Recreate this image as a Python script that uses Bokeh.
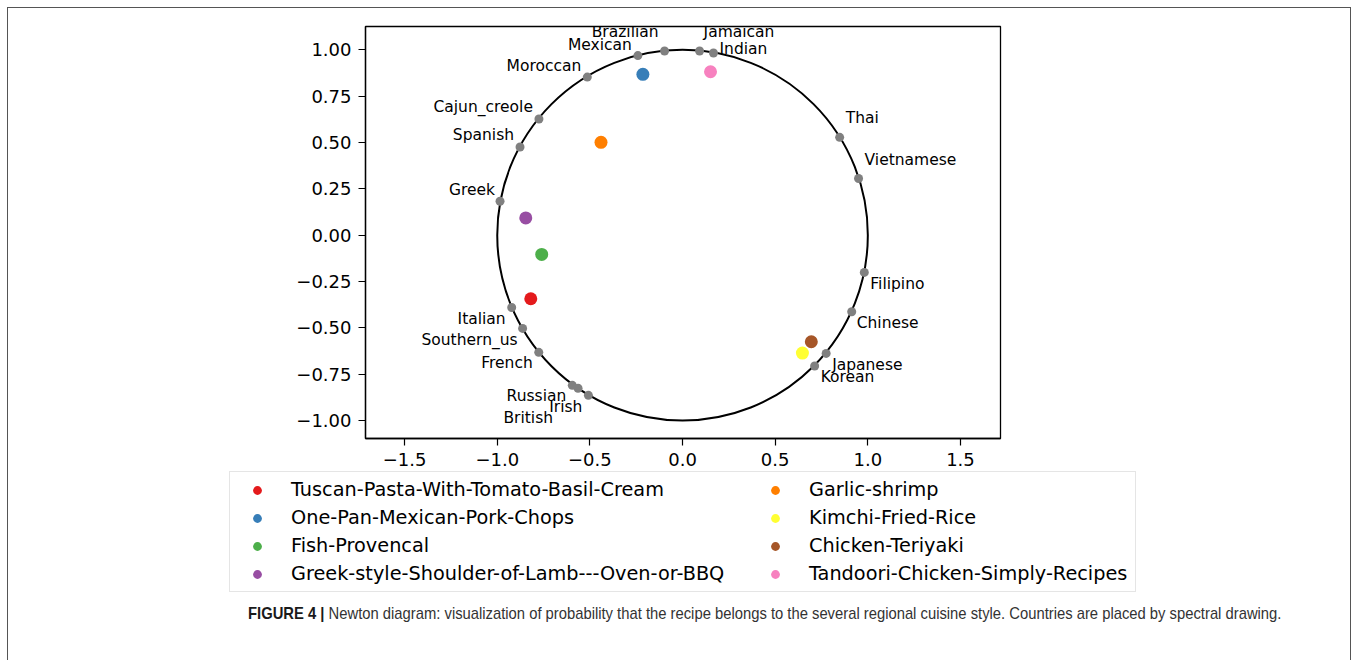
from bokeh.plotting import figure
from bokeh.models import ColumnDataSource, Legend, LegendItem, FixedTicker, CustomJSTickFormatter, Div, Range1d
from bokeh.layouts import column
from bokeh.embed import file_html
from bokeh.resources import INLINE
from bokeh.core.properties import value, field

# ---- cuisine (country) points on the unit circle ----
countries = ["Brazilian", "Mexican", "Jamaican", "Indian", "Moroccan", "Cajun_creole",
             "Spanish", "Greek", "Italian", "Southern_us", "French", "Russian",
             "British", "Irish", "Korean", "Japanese", "Chinese", "Filipino",
             "Vietnamese", "Thai"]
country_x = [-0.097, -0.241, 0.092, 0.167, -0.514, -0.775, -0.877, -0.985, -0.922, -0.863,
             -0.776, -0.595, -0.564, -0.508, 0.713, 0.775, 0.913, 0.981, 0.950, 0.848]
country_y = [0.994, 0.969, 0.994, 0.983, 0.853, 0.627, 0.476, 0.183, -0.390, -0.503,
             -0.632, -0.810, -0.826, -0.864, -0.706, -0.638, -0.413, -0.201, 0.306, 0.528]

# label placement relative to each point (screen pixels, + is down)
label_align = ["right", "right", "left", "left", "right", "right", "right", "right", "right", "right",
               "right", "right", "right", "right", "left", "left", "left", "left", "left", "left"]
label_dx = [-6, -6, 4, 6, -6, -6, -6, -5, -6, -5, -6, -6, -25, -6, 6, 6, 5, 6, 6, 6]
label_dy = [-19, -11, -19, -4, -11, -12, -12, -11, 12, 12, 11, 11, 30, 12, 11, 12, 11, 12, -18, -19]

# ---- recipes ----
recipes = ["Tuscan-Pasta-With-Tomato-Basil-Cream", "One-Pan-Mexican-Pork-Chops",
           "Fish-Provencal", "Greek-style-Shoulder-of-Lamb---Oven-or-BBQ",
           "Garlic-shrimp", "Kimchi-Fried-Rice", "Chicken-Teriyaki",
           "Tandoori-Chicken-Simply-Recipes"]
recipe_x = [-0.819, -0.214, -0.760, -0.846, -0.440, 0.647, 0.695, 0.151]
recipe_y = [-0.343, 0.868, -0.104, 0.093, 0.501, -0.636, -0.575, 0.882]
recipe_colors = ["#e41a1c", "#377eb8", "#4daf4a", "#984ea3",
                 "#ff7f00", "#ffff33", "#a65628", "#f781bf"]

x_ticks = [-1.5, -1.0, -0.5, 0.0, 0.5, 1.0, 1.5]
y_ticks = [-1.0, -0.75, -0.5, -0.25, 0.0, 0.25, 0.5, 0.75, 1.0]

caption_bold = "FIGURE 4 |"
caption_text = ("Newton diagram: visualization of probability that the recipe belongs to the "
                "several regional cuisine style. Countries are placed by spectral drawing.")

FONT = "DejaVu Sans"
W = 1342

# ---------------- main diagram ----------------
p = figure(output_backend="svg", toolbar_location=None,
           frame_width=635, frame_height=412,
           min_border_left=357, min_border_right=W - 357 - 635, min_border_top=18, min_border_bottom=32,
           x_range=Range1d(-1.711, 1.716), y_range=Range1d(-1.097, 1.126),
           background_fill_color="white", border_fill_color="white")

p.xgrid.visible = False
p.ygrid.visible = False
p.outline_line_color = "black"
p.outline_line_width = 1.3
p.outline_line_alpha = 1.0

for ax, ticks, dec in ((p.xaxis[0], x_ticks, 1), (p.yaxis[0], y_ticks, 2)):
    ax.ticker = FixedTicker(ticks=ticks)
    ax.formatter = CustomJSTickFormatter(
        code="const s = Math.abs(tick).toFixed(%d); return tick < -1e-9 ? '\\u2212' + s : s;" % dec)
    ax.major_label_text_font = FONT
    ax.major_label_text_font_size = "18px"
    ax.major_label_text_color = "black"
    ax.axis_line_color = "black"
    ax.axis_line_width = 1.3
    ax.major_tick_line_color = "black"
    ax.major_tick_line_width = 1.2
    ax.major_tick_out = 7
    ax.major_tick_in = 0
    ax.minor_tick_line_color = None
    ax.major_label_standoff = 7

# unit circle
p.ellipse(x=[0], y=[0], width=[2], height=[2], fill_color=None,
          line_color="black", line_width=2)

# country points + labels
csrc = ColumnDataSource(dict(x=country_x, y=country_y, name=countries,
                             align=label_align, dx=label_dx, dy=label_dy))
p.scatter(x="x", y="y", source=csrc, size=9, fill_color="#808080", line_color=None)
p.text(x="x", y="y", text="name", source=csrc, x_offset="dx", y_offset="dy",
       text_align=field("align"), text_baseline="middle",
       text_font=value(FONT), text_font_size="15.5px", text_color="black")

# recipe points
for rx, ry, col in zip(recipe_x, recipe_y, recipe_colors):
    p.scatter(x=[rx], y=[ry], size=13, fill_color=col, line_color=None)

# ---------------- legend strip (below the axes) ----------------
STRIP_H = 124
lg = figure(output_backend="svg", toolbar_location=None,
            frame_width=W, frame_height=STRIP_H,
            min_border_left=0, min_border_right=0, min_border_top=0, min_border_bottom=0,
            x_range=Range1d(-1.711, 1.716), y_range=Range1d(-1.097, 1.126),
            background_fill_color="white", border_fill_color="white")
lg.axis.visible = False
lg.grid.visible = False
lg.outline_line_color = None

items = []
for name, rx, ry, col in zip(recipes, recipe_x, recipe_y, recipe_colors):
    r = lg.scatter(x=[rx], y=[ry], size=13, fill_color=col, line_color=None, visible=False)
    items.append(LegendItem(label=name, renderers=[r]))

legend_style = dict(orientation="vertical",
                    label_text_font=FONT, label_text_font_size="19.3px", label_text_color="black",
                    glyph_width=42, glyph_height=22, label_height=22, label_standoff=13,
                    spacing=5, padding=6, margin=0, inactive_fill_alpha=0.0)
# left column carries the frame of the whole legend box
leg_a = Legend(items=items[:4], location=(221, 2), label_width=838,
               border_line_color="#cccccc", border_line_width=1.2,
               background_fill_color="white", background_fill_alpha=1.0, **legend_style)
leg_b = Legend(items=items[4:], location=(746, 9),
               border_line_color=None, background_fill_alpha=0.0, **legend_style)
lg.add_layout(leg_a, "center")
lg.add_layout(leg_b, "center")

# ---------------- caption ----------------
caption_html = ('<div style="margin-left:235px;padding-top:3px;white-space:nowrap;">'
                '<div style="display:inline-block;white-space:nowrap;transform:scaleX(0.87);'
                'transform-origin:0 50%;">'
                '<span style="font-weight:bold;color:#1a1a1a">' + caption_bold + '</span> '
                + caption_text + '</div></div>')
caption = Div(text=caption_html, width=W, height=60,
              styles={"font-family": "'Liberation Sans Narrow', 'Liberation Sans', Arial, sans-serif",
                      "font-size": "17px", "color": "#333333", "overflow": "hidden"})

layout = column(p, lg, caption, spacing=0, margin=(7, 0, 0, 7), width=W + 2,
                styles={"border": "1px solid #555555", "border-bottom": "none",
                        "background-color": "white"})

open("out.html", "w").write(file_html(layout, INLINE))
